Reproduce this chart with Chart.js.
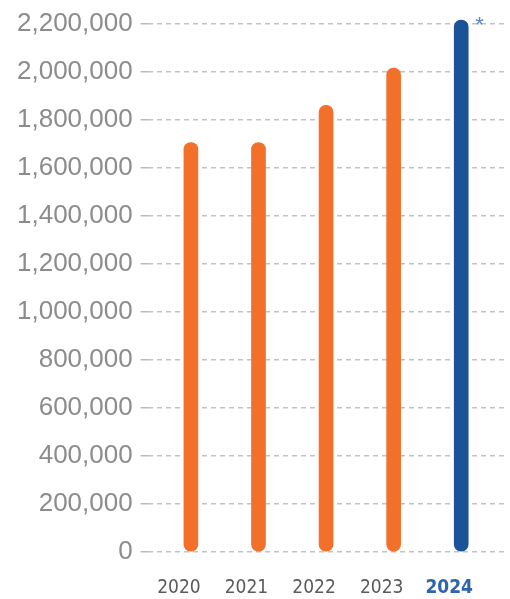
<!DOCTYPE html>
<html>
<head>
<meta charset="utf-8">
<script src="https://cdn.jsdelivr.net/npm/chart.js@4/dist/chart.umd.min.js"></script>
<style>
  html, body { margin: 0; padding: 0; background: #fff; }
  #wrap { width: 510px; height: 599px; position: relative; }
</style>
</head>
<body>
<div id="wrap"><canvas id="yearChart"></canvas></div>
<script>
// ===== DATA =====
const years = ['2020', '2021', '2022', '2023', '2024'];
const totals = [1705000, 1705000, 1860000, 2015000, 2215000];
const highlightYear = 2024;
const yMax = 2200000;
const yStep = 200000;

const orange = '#f2702a';
const blue = '#1b5399';

// star next to the last bar
const starPlugin = {
    id: 'star',
    afterDatasetsDraw: function(chart) {
        const meta = chart.getDatasetMeta(0);
        const bar = meta.data[meta.data.length - 1];
        if (!bar) return;
        const c = chart.ctx;
        c.save();
        c.fillStyle = '#5a84c4';
        c.font = '22px "Liberation Sans", Arial, sans-serif';
        c.textAlign = 'left';
        c.textBaseline = 'top';
        c.fillText('*', bar.x + 14, bar.y - 5);
        c.restore();
    }
};

const ctx = document.getElementById('yearChart');

new Chart(ctx, {
    type: 'bar',
    data: {
        labels: years,
        datasets: [{
            data: totals,
            backgroundColor: years.map(function(y) {
                return Number(y) === highlightYear ? blue : orange;
            }),
            barThickness: 14,
            borderRadius: 7,
            borderSkipped: false,
            clip: false
        }]
    },
    options: {
        responsive: true,
        maintainAspectRatio: false,
        animation: false,
        layout: {
            padding: { top: 22, right: 0, bottom: 2, left: 9 }
        },
        plugins: {
            legend: { display: false },
            tooltip: { enabled: false }
        },
        scales: {
            x: {
                type: 'linear',
                offset: false,
                bounds: 'data',
                min: 2019.36,
                max: 2024.66,
                afterBuildTicks: function(scale) {
                    scale.ticks = years.map(function(y) { return { value: Number(y) }; });
                },
                afterFit: function(scale) {
                    scale.height = 45;
                },
                grid: { display: false, drawTicks: false },
                border: { display: false },
                ticks: {
                    padding: 25,
                    labelOffset: -12,
                    maxRotation: 0,
                    autoSkip: false,
                    callback: function(value) {
                        return String(value);
                    },
                    color: function(c) {
                        return c.tick && c.tick.value === highlightYear ? '#2f65ad' : '#5a5a5a';
                    },
                    font: function(c) {
                        const bold = c.tick && c.tick.value === highlightYear;
                        return {
                            family: '"Liberation Sans Narrow", "DejaVu Sans Condensed", "Roboto Condensed", sans-serif',
                            size: 19,
                            weight: bold ? 'bold' : 'normal'
                        };
                    }
                }
            },
            y: {
                min: 0,
                max: yMax,
                grid: {
                    color: '#c2c2c2',
                    lineWidth: 1.5,
                    tickLength: 7,
                    tickColor: '#b8b8b8',
                    tickBorderDash: []
                },
                border: { display: false, dash: [5, 4] },
                ticks: {
                    stepSize: yStep,
                    padding: 8,
                    color: '#8c8c8c',
                    font: {
                        family: '"Liberation Sans", Arial, sans-serif',
                        size: 26
                    },
                    callback: function(value) {
                        return value.toLocaleString('en-US');
                    }
                }
            }
        }
    },
    plugins: [starPlugin]
});
</script>
</body>
</html>
